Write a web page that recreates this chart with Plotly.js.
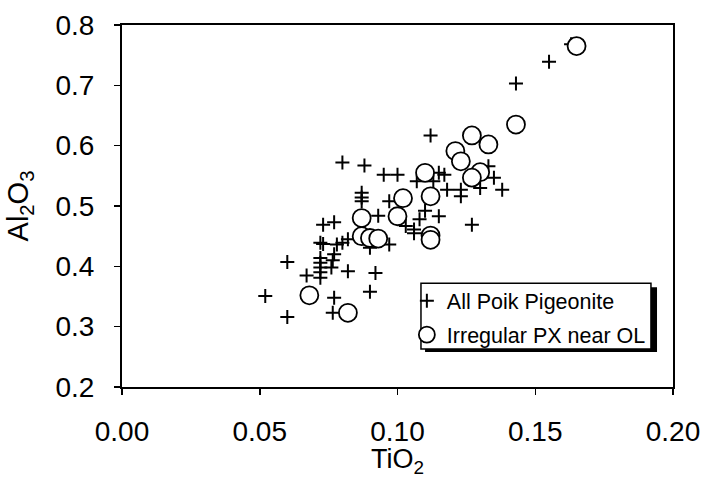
<!DOCTYPE html>
<html>
<head>
<meta charset="utf-8">
<script src="https://cdn.plot.ly/plotly-3.0.1.min.js"></script>
<style>html,body{margin:0;padding:0;background:#fff;}#chart{width:704px;height:478px;}</style>
</head>
<body>
<div id="chart"></div>
<script>
// All Poik Pigeonite
const pigeoniteTiO2 = [0.052,0.060,0.060,0.067,0.073,0.072,0.073,0.072,0.072,0.072,0.072,0.072,0.076,0.077,0.077,0.078,0.080,0.082,0.077,0.0765,0.082,0.090,0.092,0.090,0.097,0.093,0.087,0.087,0.087,0.080,0.088,0.095,0.100,0.097,0.103,0.107,0.108,0.106,0.110,0.113,0.115,0.117,0.118,0.115,0.123,0.123,0.130,0.133,0.135,0.138,0.127,0.112,0.143,0.155,0.163,0.106,0.0765];
const pigeoniteAl2O3 = [0.351,0.316,0.407,0.385,0.469,0.439,0.437,0.414,0.406,0.398,0.390,0.381,0.398,0.420,0.473,0.436,0.439,0.445,0.348,0.323,0.392,0.358,0.389,0.431,0.436,0.484,0.522,0.514,0.508,0.572,0.567,0.552,0.552,0.508,0.467,0.541,0.478,0.461,0.492,0.541,0.555,0.552,0.527,0.483,0.527,0.516,0.530,0.566,0.547,0.527,0.469,0.617,0.703,0.739,0.768,0.455,0.410];
// Irregular PX near OL
const irregularTiO2 = [0.165,0.143,0.127,0.133,0.121,0.123,0.130,0.127,0.110,0.112,0.102,0.100,0.087,0.087,0.090,0.093,0.112,0.112,0.068,0.082];
const irregularAl2O3 = [0.765,0.635,0.617,0.602,0.591,0.574,0.556,0.547,0.555,0.516,0.513,0.483,0.480,0.450,0.447,0.446,0.451,0.444,0.352,0.323];
const seriesNames = ["All Poik Pigeonite", "Irregular PX near OL"];

const FONT = "Liberation Sans, Arial, sans-serif";
const traces = [
  {x: pigeoniteTiO2, y: pigeoniteAl2O3, mode: "markers", type: "scatter", name: seriesNames[0], legendgroup: "a",
   marker: {symbol: "cross-thin-open", size: 10, color: "#000", line: {color: "#000", width: 2}}},
  {x: irregularTiO2, y: irregularAl2O3, mode: "markers", type: "scatter", name: seriesNames[1], legendgroup: "b",
   marker: {symbol: "circle", size: 18, color: "#fff", line: {color: "#000", width: 1.8}}}
];

const layout = {
  width: 704, height: 478,
  margin: {l: 122, r: 31, t: 25, b: 91},
  paper_bgcolor: "#fff", plot_bgcolor: "#fff",
  font: {family: FONT, color: "#000"},
  showlegend: true,
  legend: {x: 0.517, xanchor: "left", y: 0.295, yanchor: "top", bgcolor: "rgba(0,0,0,0)", borderwidth: 0,
           font: {family: FONT, size: 21.5, color: "#000"}, tracegroupgap: 3, itemwidth: 30, traceorder: "grouped"},
  xaxis: {range: [0, 0.2], dtick: 0.05, tick0: 0, tickformat: ".2f", showgrid: false, zeroline: false,
          showline: true, linecolor: "#000", linewidth: 2, mirror: true,
          ticks: "outside", ticklen: 6, tickwidth: 1.5, tickcolor: "#000", ticklabelstandoff: 12,
          tickfont: {family: FONT, size: 28, color: "#000"},
          title: {text: "TiO<sub>2</sub>", font: {family: FONT, size: 27, color: "#000"}, standoff: 16}},
  yaxis: {range: [0.2, 0.8], dtick: 0.1, tick0: 0.2, tickformat: ".1f", showgrid: false, zeroline: false,
          showline: true, linecolor: "#000", linewidth: 2, mirror: true,
          ticks: "outside", ticklen: 6, tickwidth: 1.5, tickcolor: "#000", ticklabelstandoff: 14,
          tickfont: {family: FONT, size: 28, color: "#000"},
          title: {text: "Al<sub>2</sub>O<sub>3</sub>", font: {family: FONT, size: 29, color: "#000"}, standoff: 18}},
  shapes: [
    {type: "rect", xref: "paper", yref: "paper", x0: 0.550, x1: 0.971, y0: 0.0964, y1: 0.2755,
     fillcolor: "#000", line: {width: 0}, layer: "above"},
    {type: "rect", xref: "paper", yref: "paper", x0: 0.5426, x1: 0.960, y0: 0.1047, y1: 0.2865,
     fillcolor: "#fff", line: {color: "#000", width: 1.5}, layer: "above"}
  ]
};

Plotly.newPlot("chart", traces, layout, {displayModeBar: false, staticPlot: true});
</script>
</body>
</html>
